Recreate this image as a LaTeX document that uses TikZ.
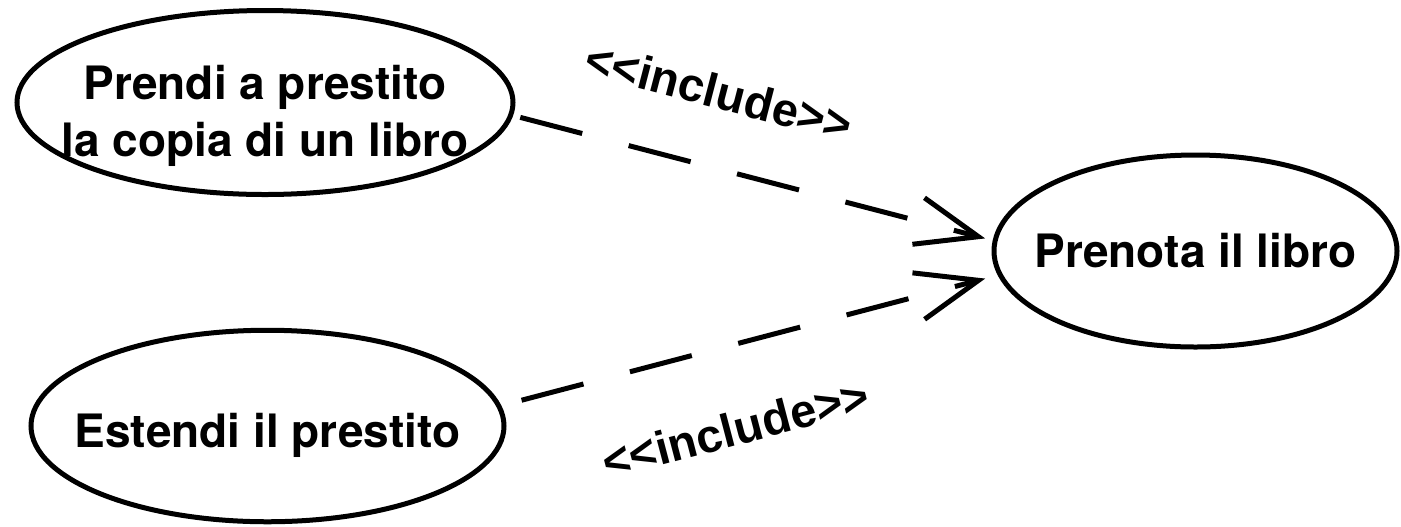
\documentclass[tikz,border=0pt]{standalone}
\usepackage{fontspec}
\setmainfont{TeX Gyre Heros}
\newfontfamily\stereofont{Liberation Sans}
\usepackage{tikz}
\usetikzlibrary{positioning, shapes.geometric, arrows.meta}

\begin{document}
\begin{tikzpicture}[on grid,
  usecase/.style={draw, ellipse, line width=2.5pt, inner sep=0pt},
  uctext/.style={align=center, font=\fontsize{23pt}{28.5pt}\selectfont\bfseries},
  include/.style={line width=2.5pt, dash pattern=on 32pt off 24pt,
    -{Straight Barb[length=31pt, width=24pt, sharp].}},
  stereo/.style={font=\stereofont\fontsize{23.5pt}{28pt}\selectfont\bfseries, inner sep=0pt, sloped}]
  \useasboundingbox (-132.5pt,-211.75pt) rectangle (568pt,51.25pt);

  \node[usecase, minimum width=248pt, minimum height=92pt,
    label={[uctext, yshift=-6.5pt]center:Prendi a prestito\\la copia di un libro}]  (prendi)  {};
  \node[usecase, minimum width=236.5pt, minimum height=95.75pt, below right = 161.75pt and 1.25pt of prendi,
    label={[uctext, yshift=-4.5pt]center:Estendi il prestito}]  (estendi)  {};
  \node[usecase, minimum width=201.5pt, minimum height=96pt, below right = 74.25pt and 465.25pt of prendi,
    label={[uctext]center:Prenota il libro}]  (prenota)  {};

  \draw[include, shorten <=3.7pt, shorten >=3.9pt] (prendi.-3.25) -- node[stereo, above=27.5pt, pos=0.39]  {<{}<include>{}>} (prenota.177);
  \draw[include, shorten <=10.5pt, shorten >=6.5pt] (estendi.5.9) -- node[stereo, below=31pt, pos=0.43]  {<{}<include>{}>} (prenota.187);
\end{tikzpicture}
\end{document}
